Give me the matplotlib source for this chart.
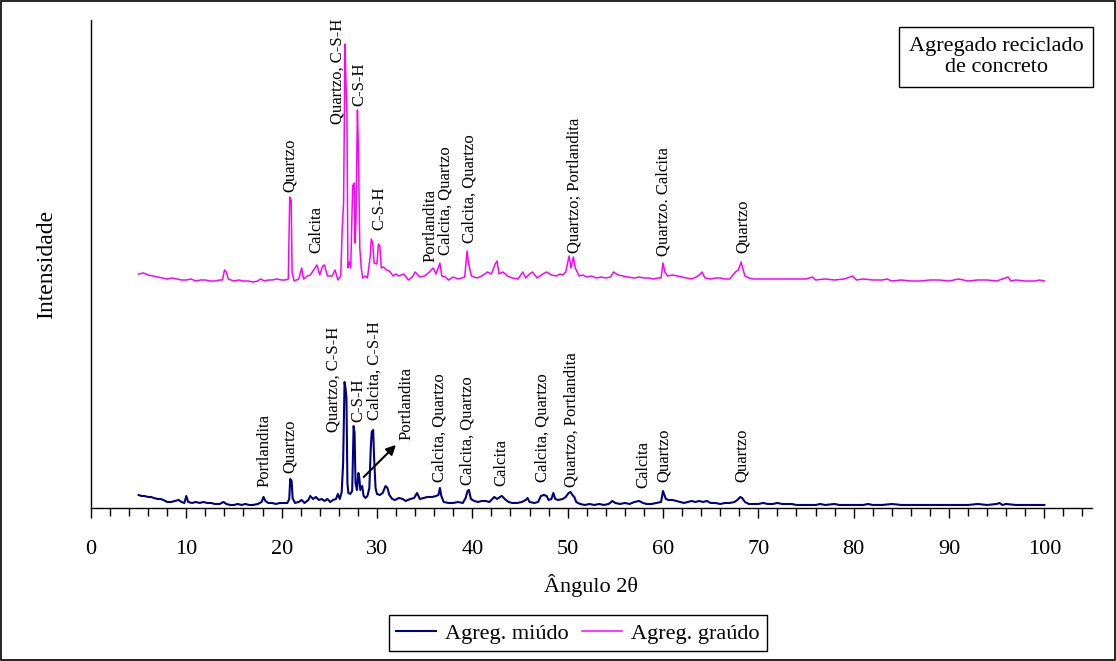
import matplotlib
matplotlib.use("Agg")
import matplotlib.pyplot as plt
from matplotlib.patches import Rectangle
from matplotlib.ticker import MultipleLocator

plt.rcParams['font.family'] = ['Liberation Serif', 'DejaVu Serif']

# ---- data (2theta, intensity in arbitrary units) ----
x_miudo = [5.0, 5.3, 5.6, 6.0, 6.3, 6.6, 7.0, 7.3, 7.6, 8.0, 8.4, 8.8, 9.2, 9.5, 9.8, 10.0, 10.2, 10.6, 11.0, 11.4,
           11.8, 12.2, 12.6, 13.0, 13.5, 13.9, 14.2, 14.6, 15.0, 15.4, 15.8, 16.2, 16.6, 17.0, 17.5, 17.9, 18.1, 18.3,
           18.6, 19.0, 19.4, 19.8, 20.2, 20.6, 20.8, 20.9, 21.05, 21.15, 21.4, 21.8, 22.1, 22.4, 22.8, 23.0, 23.3,
           23.6, 23.9, 24.2, 24.5, 24.8, 25.1, 25.4, 25.7, 25.9, 26.1, 26.3, 26.45, 26.6, 26.7, 26.8, 26.9, 27.0,
           27.2, 27.4, 27.55, 27.65, 27.75, 27.9, 28.05, 28.15, 28.25, 28.45, 28.6, 28.8, 29.0, 29.2, 29.35, 29.45,
           29.6, 29.7, 29.85, 30.0, 30.3, 30.6, 30.9, 31.1, 31.3, 31.6, 31.9, 32.3, 32.7, 33.0, 33.5, 33.9, 34.2,
           34.5, 34.9, 35.3, 35.8, 36.2, 36.45, 36.6, 36.75, 37.0, 37.5, 38.0, 38.5, 39.0, 39.3, 39.5, 39.65, 39.85,
           40.2, 40.6, 41.0, 41.4, 41.8, 42.1, 42.3, 42.6, 42.9, 43.1, 43.4, 43.8, 44.2, 44.7, 45.2, 45.6, 45.8,
           46.0, 46.5, 46.9, 47.2, 47.5, 47.8, 48.0, 48.3, 48.5, 48.7, 49.0, 49.5, 49.8, 50.1, 50.3, 50.5, 50.7,
           50.9, 51.3, 51.8, 52.3, 52.8, 53.3, 53.8, 54.3, 54.7, 55.0, 55.5, 56.0, 56.5, 57.0, 57.5, 57.9, 58.3,
           58.8, 59.3, 59.8, 60.0, 60.15, 60.3, 60.6, 61.0, 61.4, 61.8, 62.2, 62.6, 63.0, 63.4, 63.8, 64.2, 64.6,
           65.0, 65.5, 66.0, 66.5, 67.0, 67.5, 67.8, 68.1, 68.3, 68.6, 69.0, 69.5, 70.0, 70.5, 71.0, 71.5, 72.0,
           72.5, 73.0, 73.5, 74.0, 75.0, 76.0, 76.5, 77.0, 78.0, 78.5, 79.0, 80.0, 81.0, 81.5, 82.0, 83.0, 84.0,
           85.0, 86.0, 87.0, 88.0, 89.0, 90.0, 91.0, 92.0, 93.0, 94.0, 95.0, 95.3, 95.6, 96.0, 97.0, 98.0, 99.0,
           100.0]
y_miudo = [13, 12, 12, 11, 11, 10, 9, 9, 8, 6, 6, 7, 8, 6, 5, 12, 6, 5, 6, 5,
           6, 5, 5, 4, 4, 6, 4, 3, 3, 4, 3, 4, 3, 3, 4, 6, 11, 7,
           5, 5, 4, 5, 5, 5, 9, 29, 27, 10, 5, 6, 8, 5, 8, 12, 9,
           11, 8, 9, 7, 9, 6, 8, 9, 14, 9, 16, 45, 126, 120, 110, 25, 15,
           14, 17, 82, 75, 25, 18, 35, 30, 18, 22, 12, 10, 12, 20, 60, 76,
           78, 50, 20, 14, 13, 15, 22, 20, 13, 9, 8, 10, 9, 7, 9, 10, 15,
           9, 10, 11, 11, 12, 13, 20, 12, 6, 5, 5, 6, 5, 10, 17, 18, 9,
           7, 6, 7, 7, 6, 9, 11, 9, 11, 12, 9, 6, 5, 5, 6, 8, 10,
           6, 5, 6, 12, 13, 12, 8, 9, 15, 9, 8, 9, 11, 15, 16, 13, 11,
           6, 4, 3, 4, 3, 4, 3, 4, 7, 5, 4, 5, 4, 6, 7, 5, 4,
           4, 5, 6, 17, 13, 9, 8, 8, 7, 6, 5, 6, 7, 6, 7, 6, 7,
           5, 5, 4, 5, 5, 6, 8, 11, 10, 6, 4, 4, 4, 5, 4, 4, 5,
           4, 4, 4, 3, 3, 3, 4, 3, 4, 3, 3, 3, 3, 4, 3, 3, 4,
           3, 3, 3, 3, 3, 3, 3, 3, 4, 3, 4, 5, 3, 4, 3, 3, 3,
           3]

x_graudo = [5.0, 5.5, 6.0, 6.5, 7.0, 7.5, 8.0, 8.5, 9.0, 9.5, 10.0, 10.5, 11.0, 11.5, 12.0, 12.5, 13.0, 13.5, 13.8,
            14.0, 14.2, 14.4, 15.0, 15.5, 16.0, 16.5, 17.0, 17.5, 17.8, 18.2, 18.6, 19.0, 19.5, 20.0, 20.4, 20.7,
            20.85, 21.0, 21.1, 21.3, 21.8, 22.1, 22.3, 22.7, 23.0, 23.5, 23.7, 24.0, 24.3, 24.5, 24.8, 25.3, 25.6,
            25.9, 26.2, 26.35, 26.5, 26.65, 26.75, 26.85, 26.95, 27.1, 27.25, 27.45, 27.6, 27.7, 27.8, 27.95, 28.05,
            28.2, 28.35, 28.5, 28.8, 29.0, 29.3, 29.4, 29.55, 29.7, 30.0, 30.15, 30.3, 30.45, 30.7, 31.0, 31.3,
            31.7, 32.0, 32.3, 32.8, 33.3, 33.7, 34.0, 34.5, 35.0, 35.5, 35.9, 36.2, 36.6, 36.8, 37.2, 37.5, 38.0,
            38.5, 38.9, 39.2, 39.45, 39.6, 39.9, 40.2, 40.5, 41.0, 41.3, 41.6, 42.0, 42.4, 42.6, 42.8, 43.2, 43.7,
            44.2, 44.8, 45.3, 45.6, 46.0, 46.3, 46.8, 47.4, 47.8, 48.3, 48.8, 49.2, 49.5, 49.8, 50.0, 50.15, 50.35,
            50.6, 50.8, 51.2, 51.6, 52.0, 52.5, 53.0, 53.5, 54.0, 54.5, 54.8, 55.3, 55.8, 56.3, 57.0, 57.5, 58.0,
            58.5, 59.0, 59.5, 59.8, 60.0, 60.2, 60.5, 61.0, 61.5, 62.0, 62.5, 63.0, 63.5, 63.8, 64.1, 64.4, 65.0,
            65.5, 66.0, 66.5, 67.0, 67.6, 67.9, 68.2, 68.35, 68.6, 69.0, 69.5, 70.0, 71.0, 72.0, 73.0, 74.0, 75.0,
            75.7, 76.0, 77.0, 78.0, 79.0, 79.9, 80.3, 81.0, 82.0, 83.0, 83.5, 84.0, 85.0, 86.0, 87.0, 88.0, 89.0,
            90.0, 91.0, 91.5, 92.0, 93.0, 94.0, 95.0, 96.2, 96.5, 97.0, 98.0, 99.0, 99.5, 100.0]
y_graudo = [234, 235, 233, 232, 231, 230, 229, 230, 229, 228, 228, 229, 227, 228, 228, 227, 227, 228, 228,
            238, 236, 229, 227, 228, 227, 227, 226, 227, 229, 227, 228, 228, 229, 228, 228, 229,
            311, 308, 236, 227, 229, 240, 229, 232, 233, 240, 243, 233, 242, 243, 232, 232, 238,
            228, 232, 278, 305, 464, 425, 395, 240, 246, 240, 322, 325, 265, 290, 398, 360,
            260, 240, 230, 232, 230, 252, 269, 265, 245, 244, 264, 262, 240, 241, 238, 237,
            232, 234, 232, 234, 228, 231, 236, 231, 232, 236, 240, 234, 245, 232, 231, 228, 231,
            229, 230, 231, 257, 245, 232, 231, 230, 232, 234, 236, 234, 244, 247, 234, 236, 232,
            230, 229, 236, 230, 234, 236, 230, 234, 236, 233, 232, 234, 233, 236, 245, 252, 240,
            251, 240, 232, 233, 231, 232, 230, 231, 230, 231, 236, 233, 232, 231, 230, 231, 230,
            230, 229, 230, 230, 245, 236, 232, 233, 232, 231, 230, 229, 231, 233, 236, 230, 229,
            230, 230, 229, 229, 236, 238, 246, 240, 232, 230, 229, 229, 229, 229, 229, 229, 229,
            231, 228, 229, 228, 229, 232, 228, 229, 228, 228, 229, 227, 228, 227, 227, 228, 228,
            227, 229, 228, 227, 228, 228, 227, 231, 227, 228, 227, 227, 228, 227]

# peak labels (position, label-bottom height, text)
lab_graudo_x = [20.9, 23.6, 25.9, 28.2, 30.2, 35.6, 37.2, 39.7, 50.7, 60.1, 68.4]
lab_graudo_y = [316, 255, 384, 402, 278, 246, 253, 265, 255, 252, 255]
lab_graudo_t = ['Quartzo', 'Calcita', 'Quartzo, C-S-H', 'C-S-H', 'C-S-H', 'Portlandita',
                'Calcita, Quartzo', 'Calcita, Quartzo', 'Quartzo; Portlandita', 'Quartzo. Calcita', 'Quartzo']

lab_miudo_x = [18.2, 20.9, 25.4, 28.0, 29.8, 33.1, 36.6, 39.5, 43.1, 47.4, 50.4, 57.9, 60.1, 68.3]
lab_miudo_y = [21, 35, 76, 86, 88, 68, 26, 23, 22, 26, 21, 20, 26, 26]
lab_miudo_t = ['Portlandita', 'Quartzo', 'Quartzo, C-S-H', 'C-S-H', 'Calcita, C-S-H', 'Portlandita',
               'Calcita, Quartzo', 'Calcita, Quartzo', 'Calcita', 'Calcita, Quartzo', 'Quartzo, Portlandita',
               'Calcita', 'Quartzo', 'Quartzo']

series_names = ['Agreg. miúdo', 'Agreg. graúdo']

# ---- figure ----
fig = plt.figure(figsize=(11.16, 6.61), dpi=100)
ax = fig.add_axes([0.0815, 0.2315, 0.897, 0.7382])

l1, = ax.plot(x_miudo, y_miudo, color='#000080', lw=1.5)
l2, = ax.plot(x_graudo, y_graudo, color='#FF00FF', lw=1.1)

for x, y, t in zip(lab_graudo_x, lab_graudo_y, lab_graudo_t):
    ax.text(x, y, t, rotation=90, ha='center', va='bottom', fontsize=12)
for x, y, t in zip(lab_miudo_x, lab_miudo_y, lab_miudo_t):
    ax.text(x, y, t, rotation=90, ha='center', va='bottom', fontsize=12)

ax.annotate('', xy=(32.2, 65), xytext=(28.4, 29),
            arrowprops=dict(arrowstyle='-|>', color='black', lw=1.5, mutation_scale=14))

ax.set_xlim(0, 105)
ax.set_ylim(0, 488)
ax.spines['top'].set_visible(False)
ax.spines['right'].set_visible(False)
for s in ('left', 'bottom'):
    ax.spines[s].set_linewidth(1.0)
ax.set_yticks([])
ax.set_xticks(range(0, 101, 10))
ax.xaxis.set_minor_locator(MultipleLocator(2))
ax.tick_params(axis='x', which='major', direction='out', length=7, width=1, pad=16, labelsize=16)
ax.tick_params(axis='x', which='minor', direction='out', length=6, width=1)

ax.set_xlabel('Ângulo 2θ', fontsize=16, labelpad=11)
ax.set_ylabel('Intensidade', fontsize=17)
ax.yaxis.set_label_coords(-0.034, 0.5)

fig.legend([l1, l2], series_names, loc='center', bbox_to_anchor=(0.518, 0.042), ncol=2,
           frameon=True, fancybox=False, edgecolor='black', framealpha=1, fontsize=16,
           handlelength=1.8, columnspacing=0.6, handletextpad=0.4, borderpad=0.35, borderaxespad=0)
fig.legends[0].get_frame().set_linewidth(1.0)

fig.text(0.8925, 0.9138, 'Agregado reciclado\nde concreto', ha='center', va='center',
         multialignment='center', fontsize=16,
         bbox=dict(boxstyle='square,pad=0.45', fc='white', ec='black', lw=1.0))

fig.patches.append(Rectangle((0.001, 0.0015), 0.998, 0.997, transform=fig.transFigure,
                             fill=False, ec='black', lw=1.2))

fig.savefig('out.png', dpi=100)
